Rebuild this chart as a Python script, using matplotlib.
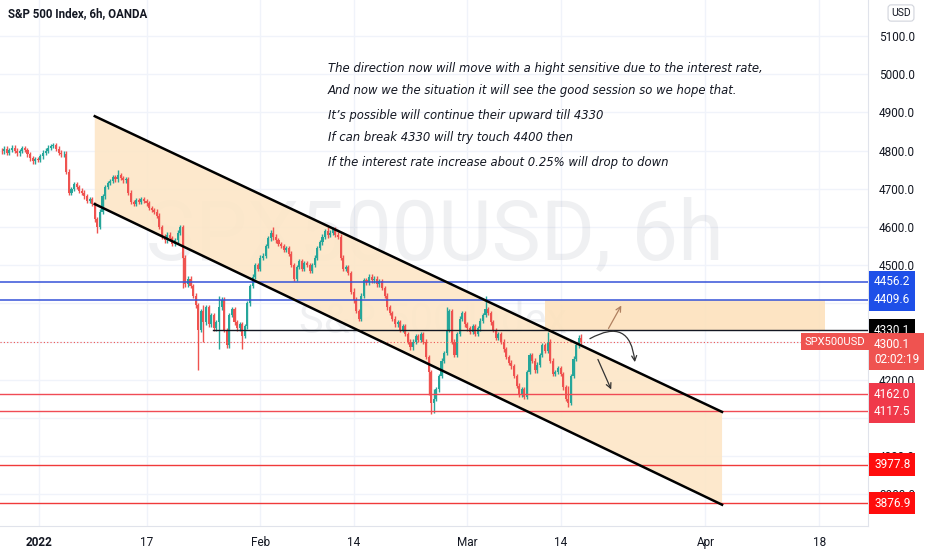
import numpy as np
import matplotlib.pyplot as plt
import matplotlib.transforms as mtransforms
from matplotlib.patches import FancyArrowPatch, Polygon, Rectangle

# 6h closes, four bars per trading day, first bar on Dec 28 2021
closes = [
    4798, 4805, 4795, 4802, 4808, 4800, 4793, 4799, 4806, 4802,
    4790, 4780, 4772, 4778, 4776, 4785,
    4795, 4800, 4808, 4812, 4815,
    4805, 4795, 4790, 4792,
    4745, 4690,
    4700, 4712, 4705, 4695,
    4690, 4680, 4668, 4672, 4660,
    4620, 4600,
    4640, 4680, 4705, 4715,
    4720, 4730, 4725, 4735, 4728, 4722, 4725,
    4690, 4665, 4660,
    4670, 4665, 4672, 4668, 4662,
    4650, 4645, 4640, 4630,
    4600, 4575, 4565, 4580,
    4570, 4555, 4565,
    4585, 4600,
    4520, 4450,
    4465, 4445,
    4420, 4395,
    4330, 4380, 4350,
    4390, 4345, 4370, 4335,
    4350,
    4390, 4410,
    4330, 4290,
    4370, 4385,
    4350, 4335, 4345,
    4315, 4340,
    4400, 4445,
    4470, 4500, 4490, 4520, 4525,
    4550, 4570, 4585, 4575,
    4565, 4555, 4550, 4540, 4545, 4530,
    4500, 4465,
    4495, 4510, 4490, 4505, 4500, 4485, 4500,
    4520, 4545, 4560, 4575, 4590, 4580,
    4585, 4595, 4580, 4575,
    4520, 4490,
    4495, 4480,
    4430, 4410,
    4380, 4360,
    4420, 4460,
    4455, 4470, 4460, 4465, 4450, 4458,
    4440, 4420,
    4390, 4375,
    4360, 4345, 4350, 4330, 4340, 4320,
    4300, 4285,
    4300, 4315, 4305, 4320, 4300,
    4260, 4220, 4140,
    4150, 4175,
    4210, 4250, 4270,
    4330, 4380,
    4300, 4265,
    4320, 4360, 4375, 4345,
    4335, 4325, 4340, 4320, 4335,
    4355, 4370, 4385, 4375,
    4350, 4330, 4310, 4320, 4300,
    4280, 4260, 4245, 4235,
    4210, 4185,
    4160, 4175, 4155,
    4220, 4265,
    4250, 4225, 4240,
    4265, 4290, 4275, 4300,
    4250, 4215,
    4220, 4230, 4215,
    4180, 4150, 4140,
    4210, 4255, 4290,
    4310, 4300.1,
]
first_open = 4800
# long wicks seen on the chart: bar index -> (high, low)
big_wicks = {
    37: (4625, 4585), 45: (4750, 4720), 70: (4600, 4440), 76: (4400, 4225),
    78: (4395, 4300), 84: (4420, 4280), 93: (4345, 4280), 105: (4600, 4565),
    126: (4600, 4570), 136: (4440, 4400), 165: (4262, 4160), 166: (4225, 4110),
    167: (4175, 4112), 172: (4390, 4265), 187: (4420, 4370), 211: (4325, 4270),
    219: (4185, 4130), 224: (4320, 4298),
}
wick = 6

levels_blue = [4456.2, 4409.6]
levels_red = [4162.0, 4117.5]
levels_red2 = [3977.8, 3876.9]
level_black = 4330.1
last_price = 4300.1

# channel (day index, price)
chan_x = [5.0, 65.6]
chan_top = [4890, 4116]
chan_bot = [4660, 3873]

tick_pos = [-0.39, 10, 21, 30, 41, 50, 64, 75]
tick_lab = ['2022', '17', 'Feb', '14', 'Mar', '14', 'Apr', '18']

notes = [
    "The direction now will move with a hight sensitive due to the interest rate,",
    "And now we the situation it will see the good session so we hope that.",
    "It\u2019s possible will continue their upward till 4330",
    "If can break 4330 will try touch 4400 then",
    "If the interest rate increase about 0.25% will drop to down",
]
notes_y = [5016, 4956, 4893, 4833, 4770]

UP = '#26a69a'
DN = '#ef5350'
TXT = '#131722'
FONT = 'Roboto'

closes = np.array(closes, dtype=float)
opens = np.concatenate([[first_open], closes[:-1]])
highs = np.maximum(opens, closes) + wick
lows = np.minimum(opens, closes) - wick
for i, (h, l) in big_wicks.items():
    highs[i] = max(highs[i], h)
    lows[i] = min(lows[i], l)
xs = -4 + np.arange(len(closes)) / 4.0

fig = plt.figure(figsize=(9.32, 5.5), dpi=100)
ax = fig.add_axes([0, 24 / 550, 868 / 932, 526 / 550])
ax.set_xlim(-4.155, 79.7)
ax.set_ylim(3817.3, 5194.2)

# grid
for p in range(3900, 5200, 100):
    ax.axhline(p, color='#f0f3fa', lw=1, zorder=0)
for t in tick_pos:
    ax.axvline(t, color='#f0f3fa', lw=1, zorder=0)

# watermark
ax.text(37.9, 4576, 'SPX500USD, 6h', fontsize=59.5, family=FONT,
        color='#8a8f9c', alpha=0.13, ha='center', va='center', zorder=0.5)
ax.text(37.7, 4352, 'S&P 500 Index', fontsize=30, family=FONT,
        color='#8a8f9c', alpha=0.13, ha='center', va='center', zorder=0.5)

# channel fill + lines
poly = Polygon([(chan_x[0], chan_top[0]), (chan_x[1], chan_top[1]),
                (chan_x[1], chan_bot[1]), (chan_x[0], chan_bot[0])],
               closed=True, fc='#fde6c7', ec='none', alpha=0.9, zorder=0.8)
ax.add_patch(poly)
ax.plot(chan_x, chan_top, color='black', lw=1.8, zorder=4)
ax.plot(chan_x, chan_bot, color='black', lw=1.8, zorder=4)

# target box
ax.add_patch(Rectangle((48.5, levels_blue[1]), 27.0, level_black - levels_blue[1],
                       fc='#fde2bd', ec='none', alpha=0.9, zorder=0.8))

# horizontal levels
for p in levels_blue:
    ax.axhline(p, color='#3552d8', lw=1.1, zorder=3)
for p in levels_red:
    ax.axhline(p, color='#f04b55', lw=1.0, zorder=3)
for p in levels_red2:
    ax.axhline(p, color='#f03a3a', lw=1.0, zorder=3)
ax.plot([16.4, 79.7], [level_black, level_black], color=TXT, lw=1.0, zorder=3)
ax.axhline(last_price, color=DN, lw=0.8, ls=(0, (1, 2)), zorder=3)

# candles
col = np.where(closes >= opens, UP, DN)
ax.vlines(xs, lows, highs, colors=col, lw=1.0, zorder=2)
body = np.maximum(np.abs(closes - opens), 1.5)
ax.bar(xs, body, bottom=np.minimum(opens, closes), width=0.2, color=col,
       lw=0, zorder=2)

# arrows
ax.add_patch(FancyArrowPatch((54.5, 4328), (56.0, 4401), arrowstyle='->',
                             mutation_scale=9, color='#b08060', lw=0.9, zorder=5))
ax.add_patch(FancyArrowPatch((52.6, 4304), (57.2, 4239), arrowstyle='->',
                             connectionstyle='arc3,rad=-0.8', mutation_scale=9,
                             color='#333333', lw=0.9, zorder=5))
ax.add_patch(FancyArrowPatch((53.5, 4260), (55.0, 4168), arrowstyle='->',
                             mutation_scale=9, color='#333333', lw=0.9, zorder=5))

# notes
for line, y in zip(notes, notes_y):
    ax.text(27.5, y, line, fontsize=8.4, style='italic', family='DejaVu Sans',
            color=TXT, ha='left', va='center', zorder=6)

# title
fig.text(8 / 932, 1 - 14 / 550, 'S&P 500 Index, 6h, OANDA', fontsize=8.3,
         fontweight='bold', family=FONT, color=TXT, ha='left', va='center')

# axes styling
ax.yaxis.tick_right()
ax.set_yticks(range(3900, 5200, 100))
ax.set_yticklabels([f'{p:.1f}' for p in range(3900, 5200, 100)], family=FONT)
ax.set_xticks(tick_pos)
ax.set_xticklabels(tick_lab, family=FONT)
ax.get_xticklabels()[0].set_fontweight('bold')
ax.tick_params(axis='both', length=0, labelsize=8.5, labelcolor=TXT)
ax.tick_params(axis='y', pad=8)
ax.tick_params(axis='x', pad=7)
for s in ['top', 'left']:
    ax.spines[s].set_visible(False)
for s in ['bottom', 'right']:
    ax.spines[s].set_color('#e0e3eb')

# price labels on the scale
tr = mtransforms.blended_transform_factory(ax.transAxes, ax.transData)
def tag(p, text, fc):
    ax.text(1.007, p, text, transform=tr, fontsize=8.5, family=FONT, color='white',
            ha='left', va='center', clip_on=False, zorder=10,
            bbox=dict(boxstyle='square,pad=0.4', fc=fc, ec='none'))
for p in levels_blue:
    tag(p, f'{p:.1f}', '#1e4fe8')
tag(level_black, f'{level_black:.1f}', '#000000')
for p in levels_red:
    tag(p, f'{p:.1f}', '#f0394a')
for p in levels_red2:
    tag(p, f'{p:.1f}', '#ff0d0d')
ax.text(1.007, last_price + 10, f'{last_price:.1f}\n02:02:19', transform=tr,
        fontsize=8.5, family=FONT, color='white', ha='left', va='top',
        clip_on=False, zorder=10, linespacing=1.2,
        bbox=dict(boxstyle='square,pad=0.4', fc='#ef5350', ec='none'))
ax.text(0.997, last_price, 'SPX500USD', transform=tr, fontsize=8, family=FONT,
        color='white', ha='right', va='center', clip_on=False, zorder=10,
        bbox=dict(boxstyle='square,pad=0.3', fc='#ef5350', ec='none'))

fig.text(901 / 932, 1 - 13 / 550, 'USD', fontsize=7.5, family=FONT, color=TXT,
         ha='center', va='center',
         bbox=dict(boxstyle='round,pad=0.3', fc='white', ec='#d1d4dc', lw=0.8))

fig.savefig('out.png', dpi=100)
